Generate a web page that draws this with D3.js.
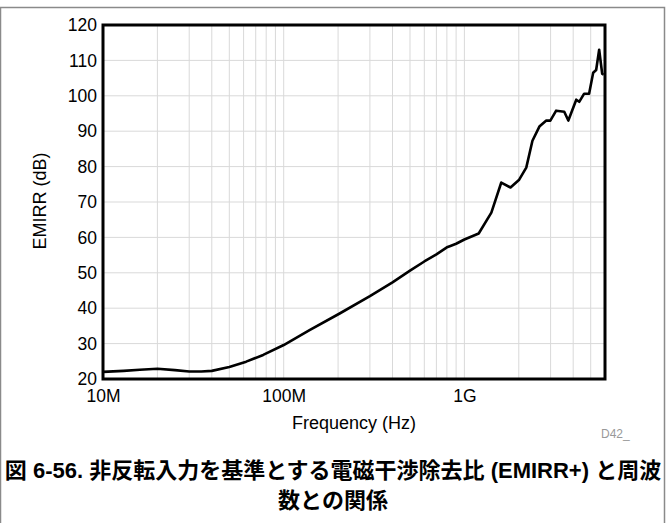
<!DOCTYPE html>
<html><head><meta charset="utf-8">
<script src="https://cdn.jsdelivr.net/npm/d3@7"></script>
<style>
body{margin:0;background:#fff;}
text{font-family:"Liberation Sans",Arial,sans-serif;}
</style></head>
<body><svg id="c" width="666" height="523"></svg>
<script>
const freqHz = [1e7,1.3e7,1.6e7,2e7,2.5e7,3e7,3.5e7,4e7,5e7,6.2e7,7.7e7,1e8,1.39e8,2.04e8,3e8,4e8,5e8,6e8,7e8,8e8,8.3e8,9e8,1e9,1.2e9,1.41e9,1.6e9,1.8e9,2.01e9,2.2e9,2.38e9,2.6e9,2.84e9,2.99e9,3.22e9,3.57e9,3.76e9,4.16e9,4.32e9,4.6e9,4.9e9,5.16e9,5.36e9,5.57e9,5.79e9,5.9e9];
const emirrDb = [22.0,22.3,22.6,22.9,22.5,22.1,22.1,22.3,23.4,24.9,26.8,29.6,33.8,38.5,43.4,47.3,50.6,53.2,55.2,57.2,57.5,58.2,59.4,61.1,67.0,75.5,74.1,76.3,79.7,87.3,91.3,93.0,93.0,95.8,95.5,93.0,98.9,98.3,100.6,100.6,106.5,107.3,113.0,106.2,106.0];
const xTickValues = [1e7,1e8,1e9];
const xTickLabels = ["10M","100M","1G"];
const yTickValues = [20,30,40,50,60,70,80,90,100,110,120];
const xDomain = [1e7,6e9];
const yDomain = [20,120];
const titleLines = ["図 6-56. 非反転入力を基準とする電磁干渉除去比 (EMIRR+) と周波","数との関係"];

const svg = d3.select("#c");
const L=103, R=605, T=25, B=379;
const x = d3.scaleLog().domain(xDomain).range([L,R]);
const y = d3.scaleLinear().domain(yDomain).range([B,T]);

// outer border
svg.append("path").attr("d","M0.5,530 V7.5 H664.5 V530").attr("fill","none").attr("stroke","#8a8a8a").attr("stroke-width",1.5);

// grid
const minor=[];
for(let d=1e7; d<6e9; d*=10){ for(let k=1;k<10;k++){ const v=d*k; if(v>xDomain[0] && v<xDomain[1]) minor.push(v);} }
svg.append("g").selectAll("line").data(minor).join("line")
  .attr("x1",d=>x(d)).attr("x2",d=>x(d)).attr("y1",T).attr("y2",B)
  .attr("stroke","#d9d9d9").attr("stroke-width",1);
svg.append("g").selectAll("line").data(yTickValues.slice(1,-1)).join("line")
  .attr("x1",L).attr("x2",R).attr("y1",d=>y(d)).attr("y2",d=>y(d))
  .attr("stroke","#d9d9d9").attr("stroke-width",1);

// axes labels
const xa = svg.append("g").attr("transform",`translate(0,${B})`)
  .call(d3.axisBottom(x).tickValues(xTickValues).tickFormat((d,i)=>xTickLabels[i]).tickSize(0).tickPadding(11));
xa.select(".domain").remove();
xa.selectAll("text").attr("font-size",17.5).attr("fill","#000").attr("font-family","Liberation Sans, Arial, sans-serif");
const ya = svg.append("g").attr("transform",`translate(${L},0)`)
  .call(d3.axisLeft(y).tickValues(yTickValues).tickSize(0).tickPadding(6));
ya.select(".domain").remove();
ya.selectAll("text").attr("font-size",17.5).attr("fill","#000").attr("font-family","Liberation Sans, Arial, sans-serif");

// curve
svg.append("path").datum(freqHz.map((f,i)=>[f,emirrDb[i]]))
  .attr("d",d3.line().x(d=>x(d[0])).y(d=>y(d[1])))
  .attr("fill","none").attr("stroke","#000").attr("stroke-width",2.6).attr("stroke-linejoin","round");

// frame
svg.append("rect").attr("x",L).attr("y",T).attr("width",R-L).attr("height",B-T)
  .attr("fill","none").attr("stroke","#000").attr("stroke-width",3);

// axis titles
svg.append("text").attr("x",354).attr("y",429).attr("text-anchor","middle").attr("font-size",18).text("Frequency (Hz)");
svg.append("text").attr("transform","translate(46,201) rotate(-90)").attr("text-anchor","middle").attr("font-size",18).text("EMIRR (dB)");
svg.append("text").attr("x",601).attr("y",438).attr("font-size",12).attr("fill","#999").text("D42_");

// caption
const cap = svg.append("text").attr("text-anchor","middle").attr("font-weight","bold").attr("font-size",22)
  .style("font-family","'Liberation Sans','Noto Sans CJK JP',sans-serif");
titleLines.forEach((t,i)=>cap.append("tspan").attr("x",333).attr("y",478+i*30).text(t));
</script></body></html>
